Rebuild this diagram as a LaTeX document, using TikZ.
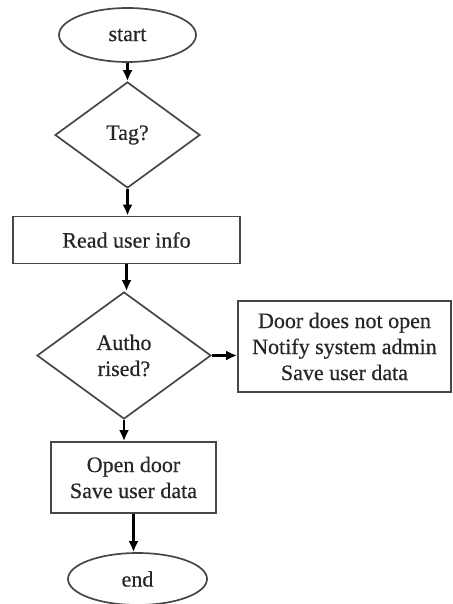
\documentclass[tikz,border=0pt]{standalone}
\usepackage{fontspec}
\setmainfont{Liberation Serif}
\newfontfamily\flowfont{Liberation Serif}[FakeBold=0.5]
\usetikzlibrary{shapes.geometric,arrows.meta}
\begin{document}
\begin{tikzpicture}[x=1pt,y=-1pt,
        box/.style={draw=black!72,line width=1.7pt,inner sep=0pt,align=center,text=black!85,font=\flowfont\fontsize{22}{26}\selectfont},
        arr/.style={line width=2.2pt,-{Latex[length=11pt,width=10pt]}}]
        \useasboundingbox (0,0) rectangle (452,604);

        \node[box,ellipse,minimum width=137,minimum height=54] (start) at (127.5,35) {start};
        \node[box,diamond,minimum width=145,minimum height=106] (tag) at (127.5,135) {Tag?};
        \node[box,rectangle,minimum width=227,minimum height=47] (read) at (126.5,240) {Read user info};
        \node[box,diamond,minimum width=174,minimum height=127] (auth) at (124,355.5) {Autho\\rised?};
        \node[box,rectangle,minimum width=213,minimum height=91] (fail) at (344.5,346.5) {Door does not open\\Notify system admin\\Save user data};
        \node[box,rectangle,minimum width=165,minimum height=71] (open) at (133.5,477.5) {Open door\\Save user data};
        \node[box,ellipse,minimum width=139,minimum height=52] (end) at (137.5,579) {end};

        \draw[arr] (start.south) -- (tag.north);
        \draw[arr] (tag.south) -- (tag.south |- read.north);
        \draw[arr] (read.south) -- (read.south |- auth.north);
        \draw[arr] (auth.east) -- (auth.east -| fail.west);
        \draw[arr] (auth.south) -- (auth.south |- open.north);
        \draw[arr] (open.south) -- (open.south |- end.north);
    \end{tikzpicture}
\end{document}
